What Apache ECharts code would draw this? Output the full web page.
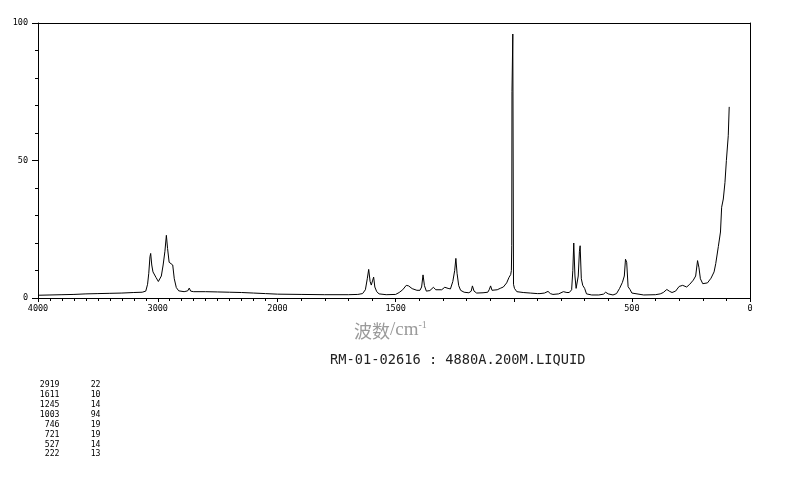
<!DOCTYPE html>
<html>
<head>
<meta charset="utf-8">
<script src="https://cdn.jsdelivr.net/npm/echarts@6/dist/echarts.min.js"></script>
<style>
html,body{margin:0;padding:0;background:#fff;}
#c{width:794px;height:482px;}
</style>
</head>
<body>
<div id="c"></div>
<script>
// Raman spectrum (wavenumber cm-1, relative intensity)
const wavenumbers = [
 4000,3900,3800,3700,3600,3500,3400,3300,3200,3130,3100,3085,3075,3065,3059,3050,3040,3030,3015,2995,2985,2970,2955,2940,2928,2918,2905,2890,2875,2862,2845,2825,2780,2750,2737,2725,2700,2600,2500,2400,2300,2200,2100,2000,
 1900,1800,1700,1660,1640,1628,1620,1614,1608,1603,1597,1593,1588,1580,1570,1540,1500,1485,1470,1455,1445,1430,1410,1397,1390,1384,1378,1370,1355,1340,1330,1322,1305,1292,1278,1268,1258,1250,1245,1240,1233,1225,1210,1190,1180,1175,1168,1157,1130,1110,1104,1098,1092,1084,1070,1055,1044,1030,1020,1013,1010,1008.5,1007.5,1004,1001,997,987,960,930,900,889,870,855,845,834,810,790,783,775,765,755,750,746,741,736,732,727,722,719,714,708,700,692,670,640,620,611,600,580,565,552,540,532,527,522,516,508,500,494,450,400,380,367,352,340,330,315,300,285,268,255,240,230,222,216,210,200,192,180,165,152,145,134,125,120,113,106,100,92,88
];
const intensities = [
 1.0,1.1,1.2,1.3,1.5,1.6,1.7,1.8,2.0,2.1,2.5,5,9,15,16.2,12,9.5,8.8,7.5,6,5.8,8,12,17,22.8,18,13,12.5,12,7,3.8,2.6,2.3,2.6,3.6,2.5,2.3,2.3,2.2,2.1,2.0,1.8,1.6,1.4,
 1.3,1.2,1.2,1.3,1.6,3,7,10.4,6,4.7,6.5,7.6,4,2.3,1.5,1.2,1.3,2,3,4.6,4.4,3.4,2.8,2.8,4,8.4,4.5,2.5,2.7,3.9,3,2.4,3,3.9,3.5,3.3,6,10,14.4,9,4.5,2.8,2.1,1.9,2.5,4.4,2.5,1.8,1.9,2.1,3,4.4,2.8,2.3,3,3.6,4,5.5,7.5,8.5,10,19,75,96,5,3.5,2.3,2,1.8,1.6,1.6,1.8,2.4,1.6,1.3,1.5,2.3,2.6,2,2,3,10,20,8,3.5,3,8,17,19,7,4.6,3.5,1.5,1.1,1.1,1.4,2.1,1.5,1.1,1.6,3.5,5.7,8,14.1,13,4.1,3.1,1.8,1.3,1.1,1.2,1.5,2,3.1,2.4,2,2.5,4.2,4.6,4,5,6.5,8,13.6,11,7,5.2,5,5.5,7.2,9.5,12.5,18.7,24,33,36,42,50,59,69.5
];
// peak table
const peakWn = [2919,1611,1245,1003,746,721,527,222];
const peakInt = [22,10,14,94,19,19,14,13];
// tick labels
const xLabelsLeft = [4000,3000,2000];
const xLabelsRight = [1500,500,0];
const yLabels = [0,50,100];
const sampleTitle = 'RM-01-02616 : 4880A.200M.LIQUID';

const pairs = wavenumbers.map((w,i)=>[w,intensities[i]]);
const dataA = pairs.filter(p=>p[0]>=2000);
const dataB = pairs.filter(p=>p[0]<=2000);

const mono = 'DejaVu Sans Mono';
const axisCol = '#000';

const chart = echarts.init(document.getElementById('c'), null, {renderer:'canvas'});

const graphics = [];
peakWn.forEach((w,i)=>{
  graphics.push({type:'text', right: 794-59.5, top: 381 + i*9.9,
    style:{text:String(w), font:'8.2px '+mono, fill:'#000', textAlign:'right'}});
  graphics.push({type:'text', right: 794-100.5, top: 381 + i*9.9,
    style:{text:String(peakInt[i]), font:'8.2px '+mono, fill:'#000', textAlign:'right'}});
});
graphics.push({type:'text', left:354, top:320,
  style:{text:'{a|波数}{b|/cm}{c|-1}', rich:{
    a:{fontFamily:'Noto Sans CJK SC', fontSize:18, fill:'#9a9a9a', color:'#9a9a9a', verticalAlign:'bottom'},
    b:{fontFamily:'Liberation Serif', fontSize:19, fill:'#9a9a9a', color:'#9a9a9a', verticalAlign:'bottom'},
    c:{fontFamily:'Liberation Serif', fontSize:10, fill:'#9a9a9a', color:'#9a9a9a', verticalAlign:'top', padding:[0,0,10,0]}
  }}});
graphics.push({type:'text', left:330, top:353,
  style:{text:sampleTitle, font:'13.7px '+mono, fill:'#222'}});

const lineStyle = {color:axisCol, width:1};
const option = {
  animation:false,
  backgroundColor:'#fff',
  grid:[
    {left:38, top:23, width:239.5, height:275},
    {left:277.5, top:23, width:472.5, height:275}
  ],
  xAxis:[
    {gridIndex:0, type:'value', min:2000, max:4000, interval:1000, inverse:true, position:'bottom',
     axisLine:{show:true, onZero:false, lineStyle}, axisTick:{show:true, length:4, lineStyle},
     minorTick:{show:true, splitNumber:10, length:3, lineStyle},
     splitLine:{show:false}, minorSplitLine:{show:false},
     axisLabel:{show:true, margin:6, showMinLabel:true, showMaxLabel:true, color:'#000', fontFamily:mono, fontSize:8.5,
       formatter:v=>xLabelsLeft.includes(v)?String(v):''}},
    {gridIndex:1, type:'value', min:0, max:2000, interval:500, inverse:true, position:'bottom',
     axisLine:{show:true, onZero:false, lineStyle}, axisTick:{show:true, length:4, lineStyle},
     minorTick:{show:true, splitNumber:5, length:3, lineStyle},
     splitLine:{show:false}, minorSplitLine:{show:false},
     axisLabel:{show:true, margin:6, showMinLabel:true, showMaxLabel:true, color:'#000', fontFamily:mono, fontSize:8.5,
       formatter:v=>xLabelsRight.includes(v)?String(v):''}},
    {gridIndex:0, type:'value', min:2000, max:4000, inverse:true, position:'top',
     axisLine:{show:true, onZero:false, lineStyle}, axisTick:{show:false}, axisLabel:{show:false}, splitLine:{show:false}},
    {gridIndex:1, type:'value', min:0, max:2000, inverse:true, position:'top',
     axisLine:{show:true, onZero:false, lineStyle}, axisTick:{show:false}, axisLabel:{show:false}, splitLine:{show:false}}
  ],
  yAxis:[
    {gridIndex:0, type:'value', min:0, max:100, interval:50, position:'left',
     axisLine:{show:true, onZero:false, lineStyle}, axisTick:{show:true, length:6, lineStyle},
     minorTick:{show:true, splitNumber:5, length:3, lineStyle},
     splitLine:{show:false}, minorSplitLine:{show:false},
     axisLabel:{show:true, margin:10, color:'#000', fontFamily:mono, fontSize:8.5,
       formatter:v=>yLabels.includes(v)?String(v):''}},
    {gridIndex:1, type:'value', min:0, max:100, position:'right',
     axisLine:{show:true, onZero:false, lineStyle}, axisTick:{show:false}, axisLabel:{show:false}, splitLine:{show:false}}
  ],
  series:[
    {type:'line', xAxisIndex:0, yAxisIndex:0, data:dataA, showSymbol:false, symbol:'none',
     lineStyle:{color:'#000', width:1}, clip:true},
    {type:'line', xAxisIndex:1, yAxisIndex:1, data:dataB, showSymbol:false, symbol:'none',
     lineStyle:{color:'#000', width:1}, clip:true}
  ],
  graphic:graphics
};
chart.setOption(option);
</script>
</body>
</html>
